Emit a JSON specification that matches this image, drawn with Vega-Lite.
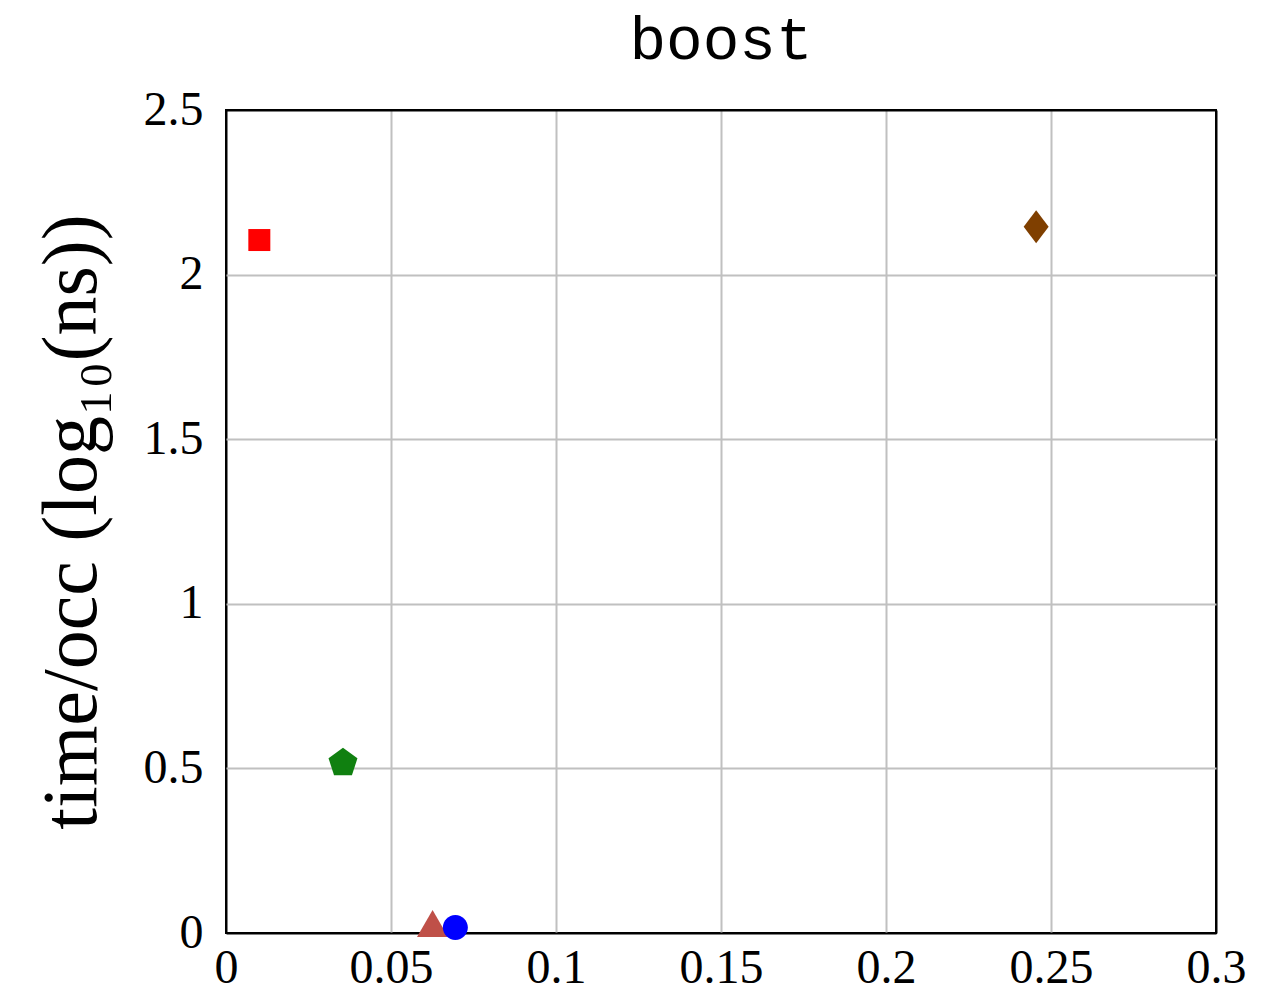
{
  "$schema": "https://vega.github.io/schema/vega-lite/v6.json",
  "autosize": "none",
  "padding": {"left": 226, "top": 110, "right": 45, "bottom": 61},
  "width": 990,
  "height": 823,
  "background": "white",
  "title": {"text": "boost", "font": "Liberation Mono", "fontSize": 61, "fontWeight": "normal", "color": "black", "anchor": "middle", "offset": 14},
  "config": {
    "view": {"stroke": "black", "strokeWidth": 2},
    "axis": {
      "domain": false, "ticks": false,
      "grid": true, "gridWidth": 2,
      "labelFont": "Liberation Serif", "labelFontSize": 48, "labelColor": "black",
      "labelOverlap": false, "labelFlush": false,
      "titleFont": "Liberation Serif", "titleFontWeight": "normal", "titleColor": "black"
    }
  },
  "data": {"values": [
    {"series": "s1", "x": 0.0101, "y": 2.105},
    {"series": "s2", "x": 0.2455, "y": 2.1455},
    {"series": "s3", "x": 0.03545, "y": 0.5164},
    {"series": "s4", "x": 0.0626, "y": 0.015},
    {"series": "s5", "x": 0.0695, "y": 0.0167}
  ]},
  "mark": {"type": "point", "filled": true, "opacity": 1, "size": 1296, "strokeWidth": 0},
  "encoding": {
    "x": {"field": "x", "type": "quantitative",
      "scale": {"domain": [0, 0.3], "nice": false, "zero": false},
      "axis": {"values": [0, 0.05, 0.1, 0.15, 0.2, 0.25, 0.3], "format": "~g", "title": null, "labelPadding": 11, "labelBaseline": "top",
        "gridColor": {"condition": {"test": "datum.value < 0.001 || datum.value > 0.299", "value": "black"}, "value": "#c0c0c0"}}},
    "y": {"field": "y", "type": "quantitative",
      "scale": {"domain": [0, 2.5], "nice": false, "zero": false},
      "axis": {"values": [0, 0.5, 1, 1.5, 2, 2.5], "format": "~g", "title": "time/occ (log₁₀(ns))", "titleFontSize": 78, "titlePadding": 32, "labelPadding": 23,
        "gridColor": {"condition": {"test": "datum.value < 0.001 || datum.value > 2.499", "value": "black"}, "value": "#c0c0c0"}}},
    "color": {"field": "series", "type": "nominal", "legend": null,
      "scale": {"domain": ["s1", "s2", "s3", "s4", "s5"], "range": ["#ff0000", "#7f3f00", "#108010", "#bf5048", "#0000ff"]}},
    "shape": {"field": "series", "type": "nominal", "legend": null,
      "scale": {"domain": ["s1", "s2", "s3", "s4", "s5"], "range": [
        "M-0.611,-0.611H0.611V0.611H-0.611Z",
        "M0,-0.917L0.694,0L0,0.917L-0.694,0Z",
        "M0,-0.845L0.803,-0.261L0.497,0.684L-0.497,0.684L-0.803,-0.261Z",
        "M0,-1L0.866,0.5L-0.866,0.5Z",
        "M0.694,0A0.694,0.694,0,1,1,-0.694,0A0.694,0.694,0,1,1,0.694,0Z"
      ]}}
  }
}
